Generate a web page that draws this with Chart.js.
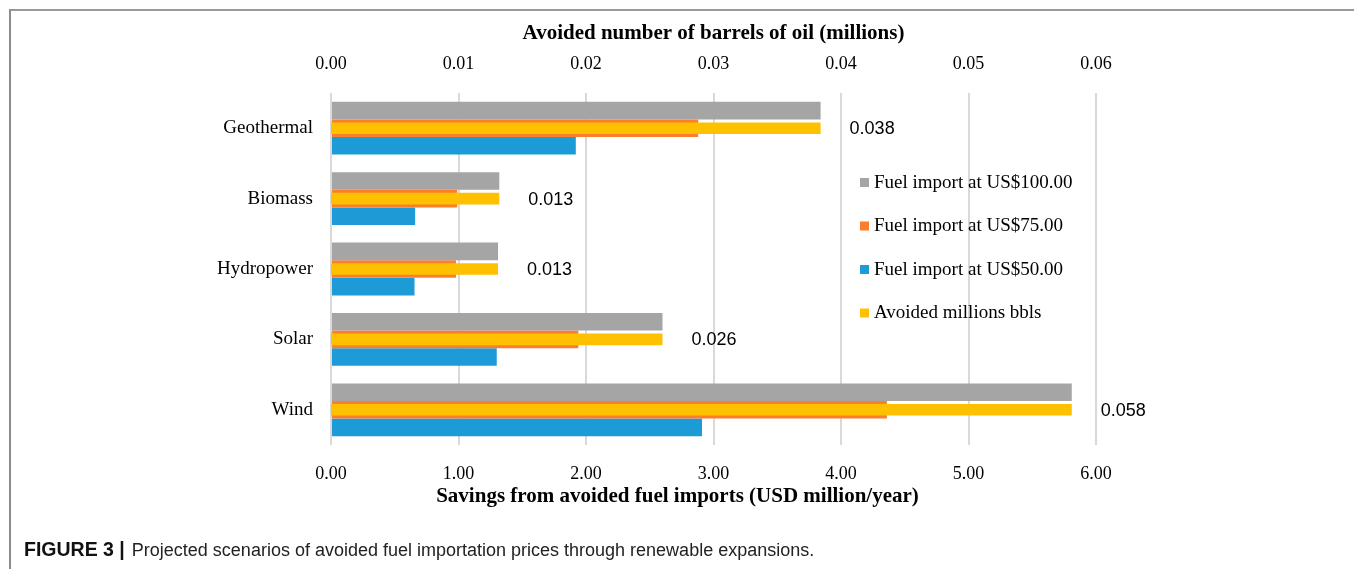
<!DOCTYPE html>
<html>
<head>
<meta charset="utf-8">
<script src="https://cdn.jsdelivr.net/npm/chart.js@4"></script>
<style>
  body { margin: 0; background: #fff; }
  #wrap { position: relative; width: 1354px; height: 569px; overflow: hidden; }
  #frame { position: absolute; left: 9px; top: 9px; right: -5px; bottom: -5px;
           border-top: 2px solid #999; border-left: 2px solid #8c8c8c; pointer-events: none; }
  canvas { position: absolute; left: 0; top: 0; }
  #caption { position: absolute; left: 24px; top: 538px; font: 18px "Liberation Sans", Arial, sans-serif; color: #222; white-space: nowrap; }
  #caption b { color: #111; font-size: 19.5px; margin-right: 2px; }
</style>
</head>
<body>
<div id="wrap">
  <canvas id="chart" width="1354" height="520"></canvas>
  <div id="frame"></div>
  <div id="caption"><b>FIGURE 3 |</b> Projected scenarios of avoided fuel importation prices through renewable expansions.</div>
</div>
<script>
// categories, top to bottom
const categories = ["Geothermal", "Biomass", "Hydropower", "Solar", "Wind"];

// savings (USD million/year)
const fuel100 = [3.84, 1.32, 1.31, 2.60, 5.81];
const fuel75  = [2.88, 0.99, 0.98, 1.94, 4.36];
const fuel50  = [1.92, 0.66, 0.655, 1.30, 2.91];

// avoided barrels of oil (millions)
const avoidedBbls = [0.0384, 0.0132, 0.0131, 0.0260, 0.0581];

const serif = "'Liberation Serif', 'Times New Roman', serif";
const bottomTitle = "Savings from avoided fuel imports (USD million/year)";

// labels next to the yellow bars
const bblLabels = {
  id: 'bblLabels',
  afterDatasetsDraw(chart) {
    const { ctx } = chart;
    const meta = chart.getDatasetMeta(3);
    ctx.save();
    ctx.font = "18px 'Liberation Sans', Arial, sans-serif";
    ctx.fillStyle = "#000";
    ctx.textAlign = "left";
    ctx.textBaseline = "middle";
    meta.data.forEach((bar, i) => {
      ctx.fillText(avoidedBbls[i].toFixed(3), bar.x + 29, bar.y + 1);
    });
    ctx.restore();
  }
};

// legend box inside the plot + bottom axis title (sits a bit left of centre)
const sideLegend = {
  id: 'sideLegend',
  afterDraw(chart) {
    const { ctx, chartArea } = chart;
    ctx.save();
    ctx.font = "19px " + serif;
    ctx.textAlign = "left";
    ctx.textBaseline = "middle";
    [0, 1, 2, 3].forEach((d, i) => {
      const ds = chart.data.datasets[d];
      const y = 183 + i * 43.5;
      ctx.fillStyle = ds.backgroundColor;
      ctx.fillRect(860, y - 5, 9, 9);
      ctx.fillStyle = "#000";
      ctx.fillText(ds.label, 874, y);
    });
    ctx.font = "bold 21px " + serif;
    ctx.textAlign = "center";
    ctx.fillText(bottomTitle, (chartArea.left + chartArea.right) / 2 - 36, 497);
    ctx.restore();
  }
};

new Chart(document.getElementById('chart'), {
  type: 'bar',
  data: {
    labels: categories,
    datasets: [
      { label: "Fuel import at US$100.00", data: fuel100, backgroundColor: "#a5a5a5", xAxisID: 'x', order: 1 },
      { label: "Fuel import at US$75.00", data: fuel75, backgroundColor: "#fb7f2b", xAxisID: 'x', order: 1 },
      { label: "Fuel import at US$50.00", data: fuel50, backgroundColor: "#1c9bd7", xAxisID: 'x', order: 1 },
      { label: "Avoided millions bbls", data: avoidedBbls, backgroundColor: "#ffc000", xAxisID: 'x2',
        grouped: false, categoryPercentage: 1, barPercentage: 0.165, order: 0 }
    ]
  },
  options: {
    indexAxis: 'y',
    responsive: false,
    animation: false,
    categoryPercentage: 0.75,
    barPercentage: 1,
    layout: { padding: { left: 0, right: 258, top: 10, bottom: 12 } },
    plugins: { legend: { display: false }, tooltip: { enabled: false } },
    scales: {
      y: {
        grid: { display: false, drawTicks: false },
        border: { display: false },
        ticks: { color: "#000", font: { family: serif, size: 19 }, padding: 18 },
        afterFit(s) { s.width = 331; }
      },
      x: {
        position: 'bottom',
        min: 0, max: 6,
        grid: { color: "#d9d9d9", lineWidth: 2, drawTicks: false },
        border: { display: false },
        ticks: { stepSize: 1, color: "#000", font: { family: serif, size: 18 }, padding: 18,
                 callback: v => Number(v).toFixed(2) },
        afterFit(s) { s.height = 63; }
      },
      x2: {
        position: 'top',
        min: 0, max: 0.06,
        grid: { display: false, drawTicks: false },
        border: { display: false },
        ticks: { stepSize: 0.01, color: "#000", font: { family: serif, size: 18 }, padding: 18,
                 callback: v => Number(v).toFixed(2) },
        title: { display: true, text: "Avoided number of barrels of oil (millions)",
                 color: "#000", font: { family: serif, size: 21, weight: 'bold' }, padding: { top: 11, bottom: 0 } },
        afterFit(s) { s.height = 83; }
      }
    }
  },
  plugins: [bblLabels, sideLegend]
});
</script>
</body>
</html>
